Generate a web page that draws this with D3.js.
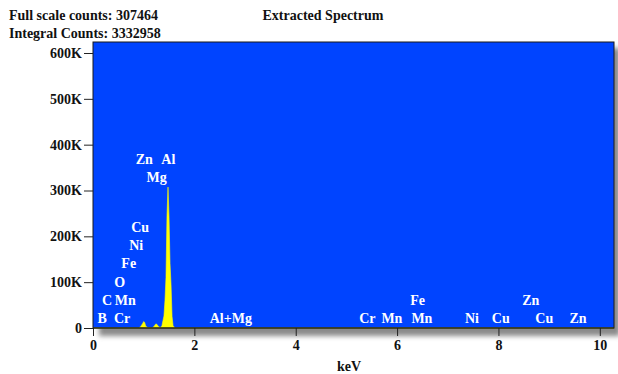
<!DOCTYPE html>
<html>
<head>
<meta charset="utf-8">
<script src="https://cdn.jsdelivr.net/npm/d3@7"></script>
<style>
  body { margin: 0; background: #fff; }
  text { font-family: "Liberation Serif", "Times New Roman", serif; font-weight: bold; }
</style>
</head>
<body>
<div id="chart"></div>
<script>
// spectrum (keV, counts)
let energies = [0.00, 0.90, 0.94, 0.98, 1.00, 1.02, 1.04, 1.08, 1.16, 1.20, 1.24, 1.26, 1.30, 1.34,
  1.36, 1.38, 1.40, 1.42, 1.44, 1.46, 1.48, 1.50, 1.52, 1.54, 1.56, 1.58, 1.62, 10.28];
let counts = [0, 0, 3000, 10000, 14000, 12000, 4000, 1000, 0, 3000, 9000, 8000, 2000, 1500,
  5000, 16000, 26000, 60000, 110000, 245000, 307464, 242000, 140000, 94000, 25000, 5000, 0, 0];

// element labels: name, line energy (keV), label level (counts)
let labelNames = ["B", "Cr", "C", "Mn", "O", "Fe", "Ni", "Cu", "Zn", "Mg", "Al", "Al+Mg",
  "Cr", "Mn", "Mn", "Fe", "Ni", "Cu", "Zn", "Cu", "Zn"];
let labelEnergies = [0.183, 0.573, 0.277, 0.637, 0.525, 0.705, 0.851, 0.930, 1.012, 1.254, 1.486, 2.72,
  5.414, 5.898, 6.490, 6.403, 7.477, 8.046, 8.637, 8.904, 9.571];
let labelLevels = [11000, 11000, 50000, 50000, 89000, 131000, 170000, 209000, 358000, 319000, 358000, 11000,
  11000, 11000, 11000, 50000, 11000, 11000, 50000, 11000, 11000];

let yTicks = [0, 100000, 200000, 300000, 400000, 500000, 600000];
let xTicks = [0, 2, 4, 6, 8, 10];
let headerLines = ["Full scale counts: 307464", "Integral Counts: 3332958"];
let title = "Extracted Spectrum";

let W = 618, H = 374;
let margin = { top: 42, right: 4, bottom: 46, left: 93 };
let width = W - margin.left - margin.right,
  height = H - margin.top - margin.bottom;

let x = d3.scaleLinear().domain([0, 10.28]).range([0, width]);
let y = d3.scaleLinear().domain([0, 624000]).range([height, 0]);

let svg = d3.select("#chart").append("svg")
  .attr("width", W)
  .attr("height", H);

let defs = svg.append("defs");
let blur = defs.append("filter").attr("id", "shadow")
  .attr("x", "-10%").attr("y", "-10%").attr("width", "120%").attr("height", "120%");
blur.append("feGaussianBlur").attr("stdDeviation", 2.5);

// header texts
svg.selectAll(".hdr")
  .data(headerLines)
  .enter().append("text")
  .attr("class", "hdr")
  .attr("x", 9)
  .attr("y", function (d, i) { return 20 + i * 17.5; })
  .style("font-size", "14px")
  .style("fill", "#111")
  .text(function (d) { return d; });

svg.append("text")
  .attr("x", 323)
  .attr("y", 20)
  .style("text-anchor", "middle")
  .style("font-size", "14px")
  .style("fill", "#111")
  .text(title);

let g = svg.append("g")
  .attr("transform", "translate(" + margin.left + "," + margin.top + ")");

// drop shadow behind plot area
g.append("rect")
  .attr("x", 6).attr("y", 6)
  .attr("width", width).attr("height", height + 2)
  .style("fill", "#8a8a8a")
  .attr("filter", "url(#shadow)");

// plot area
g.append("rect")
  .attr("width", width)
  .attr("height", height)
  .style("fill", "#0044ff");

// spectrum
let data = energies.map(function (e, i) { return { e: e, c: counts[i] }; });
let area = d3.area()
  .x(function (d) { return x(d.e); })
  .y0(height)
  .y1(function (d) { return y(d.c); });

g.append("path")
  .datum(data)
  .attr("d", area)
  .style("fill", "#ffff00")
  .style("stroke", "#ffff00")
  .style("stroke-width", 0.6);

// element labels
g.selectAll(".lbl")
  .data(labelNames)
  .enter().append("text")
  .attr("class", "lbl")
  .attr("x", function (d, i) { return x(labelEnergies[i]); })
  .attr("y", function (d, i) { return y(labelLevels[i]); })
  .style("text-anchor", "middle")
  .style("font-size", "14px")
  .style("fill", "#fff")
  .text(function (d) { return d; });

// frame
g.append("rect")
  .attr("width", width)
  .attr("height", height)
  .style("fill", "none")
  .style("stroke", "#1a1a1a")
  .style("stroke-width", 1);

// Y axis
let yAxis = g.append("g")
  .call(d3.axisLeft(y).tickValues(yTicks).tickSize(9).tickPadding(2)
    .tickFormat(function (d) { return d === 0 ? "0" : (d / 1000) + "K"; }));
yAxis.select(".domain").remove();
yAxis.selectAll("line").style("stroke", "#222");
yAxis.selectAll("text").style("font-size", "14px").style("fill", "#111")
  .style("font-family", "'Liberation Serif', serif").style("font-weight", "bold");

// X axis
let xAxis = g.append("g")
  .attr("transform", "translate(0," + height + ")")
  .call(d3.axisBottom(x).tickValues(xTicks).tickSize(8).tickPadding(4));
xAxis.select(".domain").remove();
xAxis.selectAll("line").style("stroke", "#222");
xAxis.selectAll("text").style("font-size", "14px").style("fill", "#111")
  .style("font-family", "'Liberation Serif', serif").style("font-weight", "bold");

g.append("line")
  .attr("x1", 0).attr("x2", width)
  .attr("y1", height).attr("y2", height)
  .style("stroke", "#1a1a1a");

g.append("text")
  .attr("x", x(5.05))
  .attr("y", height + 43)
  .style("text-anchor", "middle")
  .style("font-size", "14px")
  .style("fill", "#111")
  .text("keV");
</script>
</body>
</html>
